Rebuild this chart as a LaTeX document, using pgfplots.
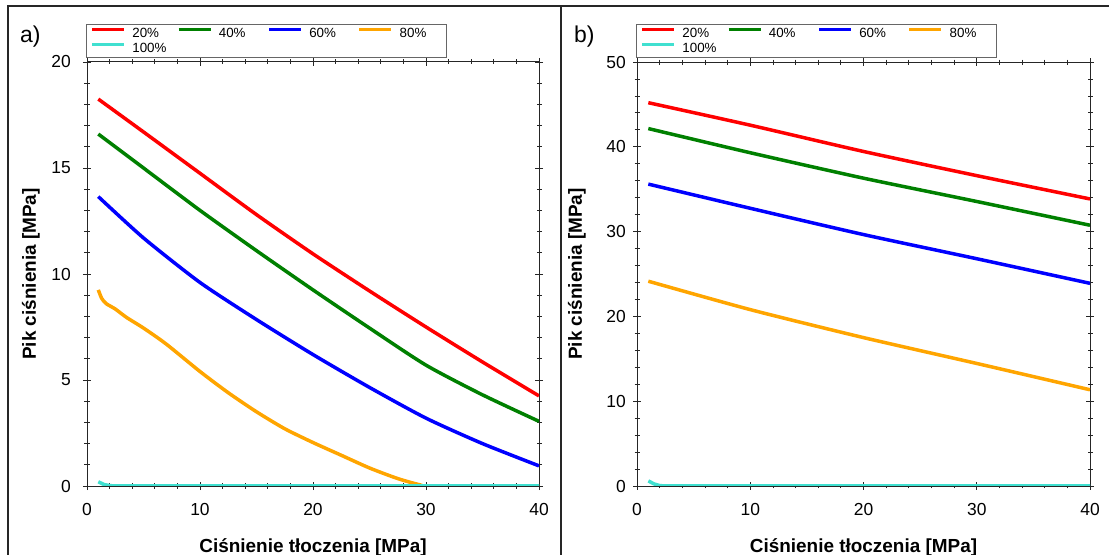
\documentclass[border=0pt]{standalone}
\usepackage{pgfplots}
\pgfplotsset{compat=1.18}
\usepackage{fontspec}
\setmainfont{Liberation Sans}
\definecolor{cRed}{RGB}{255,0,0}
\definecolor{cGreen}{RGB}{0,128,0}
\definecolor{cBlue}{RGB}{0,0,255}
\definecolor{cOrange}{RGB}{255,165,0}
\definecolor{cCyan}{RGB}{64,224,208}
\newcommand{\lf}{\fontsize{13.4}{14}\selectfont}
\pgfplotsset{
  panel/.style={
    scale only axis, height=424bp,
    xmin=0, xmax=40, ymin=0,
    xtick={0,10,20,30,40}, minor x tick num=4, minor y tick num=4,
    axis line style={line width=1bp, black!85},
    tick style={line width=0.8bp, black!85},
    major tick length=8bp, minor tick length=5bp,
    tick align=center,
    /pgf/number format/assume math mode=true,
    tick label style={font=\fontsize{17.5}{20}\selectfont, inner sep=0pt},
    xticklabel style={yshift=-13bp},
    label style={font=\bfseries\fontsize{19}{22}\selectfont},
    xlabel={Ciśnienie tłoczenia [MPa]},
    ylabel={Pik ciśnienia [MPa]},
    xlabel style={at={(axis description cs:0.5,0)}, anchor=base, yshift=-66bp},
    legend columns=4,
    legend style={at={(0,1)}, anchor=south west, xshift=-1bp, yshift=4bp,
      draw=black!60, line width=0.8bp, inner xsep=4bp, inner ysep=3bp,
      font=\lf, column sep=0pt, row sep=3bp,
      cells={anchor=west},
      nodes={inner sep=0pt, text height=10bp, text depth=2bp, anchor=west},
      /tikz/every odd column/.append style={column sep=6.5bp},
      /tikz/column 2/.append style={column sep=10.3bp},
      /tikz/column 4/.append style={column sep=21.7bp},
      /tikz/column 6/.append style={column sep=21.7bp}},
    legend image code/.code={\draw[#1] (0bp,4bp) -- (32bp,4bp);},
    every axis plot/.append style={line width=3.5bp, line join=round},
  }
}
\begin{document}
\begin{tikzpicture}
\useasboundingbox (0,0) rectangle (1109bp,555bp);
\draw[line width=1.2bp, black!85] (8bp,-2bp) -- (8bp,549bp) -- (1112bp,549bp);
\draw[line width=1.2bp, black!85] (561bp,-2bp) -- (561bp,549bp);
\node[anchor=base west, inner sep=0pt, font=\fontsize{23}{26}\selectfont] at (20bp,512bp) {a)};
\node[anchor=base west, inner sep=0pt, font=\fontsize{23}{26}\selectfont] at (574bp,512bp) {b)};

\begin{axis}[panel, at={(87bp,69bp)}, anchor=south west, width=452bp,
  ymax=20, ytick={0,5,10,15,20},
  yticklabel style={xshift=-12bp},
  ylabel style={at={(axis description cs:-0.124,0.5)}, anchor=center}]
\addplot[cRed, smooth, tension=0.4] coordinates {(1,18.25)(5,16.7)(10,14.75)(15,12.8)(20,10.95)(25,9.2)(30,7.5)(35,5.85)(40,4.25)};
\addlegendentry{\lf 20\%}
\addplot[cGreen, smooth, tension=0.4] coordinates {(1,16.6)(5,15.0)(10,13.0)(15,11.1)(20,9.25)(25,7.45)(30,5.7)(35,4.3)(40,3.05)};
\addlegendentry{\lf 40\%}
\addplot[cBlue, smooth, tension=0.4] coordinates {(1,13.65)(5,11.7)(10,9.6)(15,7.85)(20,6.2)(25,4.65)(30,3.2)(35,2.0)(40,0.95)};
\addlegendentry{\lf 60\%}
\addplot[cOrange, smooth, tension=0.4] coordinates {(1,9.25)(1.3,8.85)(1.7,8.6)(2.5,8.35)(3.5,7.95)(5,7.45)(7,6.7)(10,5.4)(12.5,4.4)(15,3.5)(17.5,2.7)(20,2.05)(22.5,1.45)(25,0.85)(27.5,0.35)(29.5,0.05)(30.5,0)(40,0)};
\addlegendentry{\lf 80\%\hspace*{16bp}}
\addplot[cCyan] coordinates {(1,0.2)(1.5,0.07)(2,0.02)(2.5,0)(40,0)};
\addlegendentry{\lf 100\%}
\end{axis}

\begin{axis}[panel, at={(637bp,69bp)}, anchor=south west, width=453bp,
  ymax=50, ytick={0,10,20,30,40,50},
  yticklabel style={xshift=-7bp},
  ylabel style={at={(axis description cs:-0.1325,0.5)}, anchor=center}]
\addplot[cRed, smooth, tension=0.4] coordinates {(1,45.2)(10,42.55)(20,39.45)(30,36.6)(40,33.85)};
\addlegendentry{\lf 20\%}
\addplot[cGreen, smooth, tension=0.4] coordinates {(1,42.15)(10,39.3)(20,36.3)(30,33.55)(40,30.75)};
\addlegendentry{\lf 40\%}
\addplot[cBlue, smooth, tension=0.4] coordinates {(1,35.6)(10,32.75)(20,29.65)(30,26.8)(40,23.9)};
\addlegendentry{\lf 60\%}
\addplot[cOrange, smooth, tension=0.4] coordinates {(1,24.15)(10,20.8)(20,17.5)(30,14.45)(40,11.35)};
\addlegendentry{\lf 80\%\hspace*{16bp}}
\addplot[cCyan] coordinates {(1,0.6)(1.5,0.25)(2,0.05)(2.5,0)(40,0)};
\addlegendentry{\lf 100\%}
\end{axis}
\end{tikzpicture}
\end{document}
